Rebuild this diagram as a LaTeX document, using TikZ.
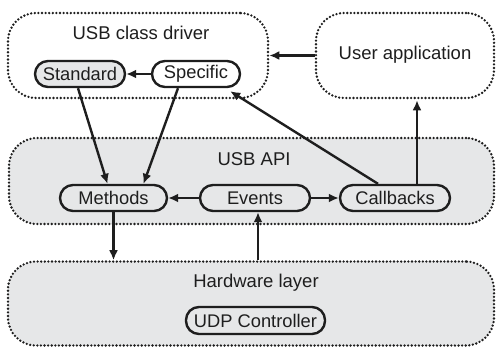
\documentclass[tikz,border=0pt]{standalone}
\usepackage{fontspec}
\setmainfont{Liberation Sans}
\usetikzlibrary{arrows.meta}
\definecolor{ink}{HTML}{1E1E1E}
\definecolor{bg}{HTML}{E6E7E8}
\tikzset{
  layer/.style={draw=ink, dash pattern=on 0pt off 3.6pt, line cap=round, line width=2.6pt, rounded corners=28pt, inner sep=0pt},
  pill/.style={draw=ink, line width=2.4pt, rounded corners=13pt, minimum height=26pt, inner sep=0pt, fill=bg, text=ink, font=\fontsize{18.3}{20}\selectfont},
  lbl/.style={text=ink, inner sep=0pt, font=\fontsize{18.5}{20}\selectfont},
  arr/.style={draw=ink, line width=2.4pt, -{Latex[length=10pt,width=9pt]}},
}
\begin{document}
\begin{tikzpicture}[x=1pt,y=-1pt]
\useasboundingbox (0,0) rectangle (497,346);
% layers
\node[layer, minimum width=260pt, minimum height=85pt] (cd) at (138,55.5) {};
\node[layer, minimum width=178pt, minimum height=85pt] (ua) at (405,55.5) {};
\node[layer, fill=bg, minimum width=485pt, minimum height=86pt] (api) at (251.5,181) {};
\node[layer, fill=bg, minimum width=486pt, minimum height=84pt] (hw) at (251,303.5) {};
% labels
\node[lbl] (cdl) at (141,33) {USB class driver};
\node[lbl] (ual) at (405,55) {User application};
\node[lbl] (apil) at (254,159) {USB API};
\node[lbl] (hwl) at (256,283) {Hardware layer};
% pills
\node[pill, minimum width=90pt] (std) at (80,74) {Standard};
\node[pill, fill=white, minimum width=88pt] (spec) at (196,74) {Specific};
\node[pill, minimum width=107pt] (meth) at (113.5,198) {Methods};
\node[pill, minimum width=110pt] (ev) at (255,198) {Events};
\node[pill, minimum width=110pt] (cb) at (395,198) {Callbacks};
\node[pill, minimum width=139pt, minimum height=27pt] (udp) at (255.5,320.5) {UDP Controller};
% arrows
\draw[arr] (spec.west) -- (std.east);
\draw[arr] ([xshift=-2pt]std.south) -- ([xshift=-6pt]meth.north);
\draw[arr] ([xshift=-18pt]spec.south) -- ([xshift=30pt]meth.north);
\draw[arr] ([xshift=-17pt]cb.north) -- ([xshift=-11pt,yshift=-3pt]spec.south east);
\draw[arr] ([xshift=22pt]cb.north) -- ([xshift=12pt,yshift=-1pt]ua.south);
\draw[arr] (ua.west) -- (cd.east);
\draw[arr] (ev.west) -- (meth.east);
\draw[arr] (ev.east) -- (cb.west);
\draw[arr] (meth.south) -- (meth.south |- hw.north);
\draw[arr] ([xshift=3pt]ev.south |- hw.north) -- ([xshift=3pt]ev.south);
\end{tikzpicture}
\end{document}
